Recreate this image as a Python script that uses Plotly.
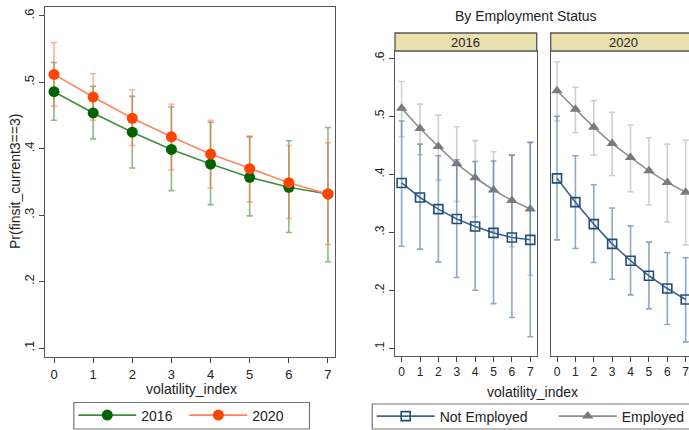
import plotly.graph_objects as go

W, H = 689, 430

# ---------------- data ----------------
vol_index = [0, 1, 2, 3, 4, 5, 6, 7]
y_ticks = [0.1, 0.2, 0.3, 0.4, 0.5, 0.6]
y_tick_labels = [".1", ".2", ".3", ".4", ".5", ".6"]

# left panel: by year
p2016 = [0.486, 0.454, 0.425, 0.399, 0.377, 0.357, 0.342, 0.332]
p2016_lo = [0.443, 0.415, 0.371, 0.337, 0.316, 0.299, 0.274, 0.230]
p2016_hi = [0.530, 0.494, 0.479, 0.463, 0.440, 0.418, 0.412, 0.432]
p2020 = [0.512, 0.478, 0.446, 0.418, 0.392, 0.370, 0.349, 0.332]
p2020_lo = [0.464, 0.443, 0.405, 0.368, 0.341, 0.320, 0.295, 0.256]
p2020_hi = [0.560, 0.513, 0.489, 0.467, 0.443, 0.419, 0.405, 0.409]

# right panels: by employment status
ne16 = [0.385, 0.360, 0.340, 0.323, 0.310, 0.299, 0.291, 0.287]
ne16_lo = [0.276, 0.271, 0.249, 0.222, 0.200, 0.177, 0.153, 0.120]
ne16_hi = [0.492, 0.452, 0.432, 0.425, 0.422, 0.423, 0.433, 0.455]
em16 = [0.514, 0.479, 0.448, 0.418, 0.394, 0.373, 0.355, 0.340]
em16_lo = [0.465, 0.434, 0.390, 0.353, 0.327, 0.302, 0.275, 0.226]
em16_hi = [0.560, 0.521, 0.502, 0.482, 0.458, 0.439, 0.433, 0.455]

ne20 = [0.393, 0.352, 0.314, 0.280, 0.251, 0.225, 0.203, 0.184]
ne20_lo = [0.287, 0.272, 0.248, 0.219, 0.192, 0.168, 0.141, 0.111]
ne20_hi = [0.500, 0.432, 0.382, 0.342, 0.311, 0.283, 0.265, 0.256]
em20 = [0.544, 0.512, 0.481, 0.453, 0.429, 0.406, 0.386, 0.369]
em20_lo = [0.492, 0.472, 0.433, 0.398, 0.370, 0.347, 0.318, 0.278]
em20_hi = [0.594, 0.550, 0.527, 0.507, 0.485, 0.463, 0.452, 0.459]

panel_labels = ["2016", "2020"]

FONT = "Liberation Sans, Arial, sans-serif"


def px_x(p):
    return p / W


def px_y(p):
    return (H - p) / H


def err_trace(x, y, lo, hi, color, xa, ya):
    return go.Scatter(
        x=x, y=y, mode="markers", marker=dict(opacity=0, size=1),
        error_y=dict(type="data", symmetric=False,
                     array=[h - v for h, v in zip(hi, y)],
                     arrayminus=[v - l for v, l in zip(y, lo)],
                     color=color, thickness=1.6, width=3),
        xaxis=xa, yaxis=ya, showlegend=False, hoverinfo="skip")


fig = go.Figure()

# ---- left panel ----
fig.add_trace(err_trace(vol_index, p2016, p2016_lo, p2016_hi, "rgba(40,130,40,0.55)", "x", "y"))
fig.add_trace(err_trace(vol_index, p2020, p2020_lo, p2020_hi, "rgba(255,110,60,0.55)", "x", "y"))
fig.add_trace(go.Scatter(x=vol_index, y=p2016, mode="lines+markers", name="2016",
                         line=dict(color="#3F8F3F", width=1.6),
                         marker=dict(color="#006400", size=11, symbol="circle"),
                         xaxis="x", yaxis="y", legend="legend"))
fig.add_trace(go.Scatter(x=vol_index, y=p2020, mode="lines+markers", name="2020",
                         line=dict(color="#FF8560", width=1.6),
                         marker=dict(color="#FF4500", size=11, symbol="circle"),
                         xaxis="x", yaxis="y", legend="legend"))

# ---- right panels ----
for (ne, ne_lo, ne_hi, em, em_lo, em_hi, xa, ya, first) in [
        (ne16, ne16_lo, ne16_hi, em16, em16_lo, em16_hi, "x2", "y2", True),
        (ne20, ne20_lo, ne20_hi, em20, em20_lo, em20_hi, "x3", "y3", False)]:
    fig.add_trace(err_trace(vol_index, em, em_lo, em_hi, "rgba(160,160,160,0.5)", xa, ya))
    fig.add_trace(err_trace(vol_index, ne, ne_lo, ne_hi, "rgba(70,110,155,0.6)", xa, ya))
    fig.add_trace(go.Scatter(x=vol_index, y=ne, mode="lines+markers", name="Not Employed",
                             line=dict(color="#41658F", width=1.6),
                             marker=dict(color="#1F4E79", size=9, symbol="square-open",
                                         line=dict(width=1.6)),
                             xaxis=xa, yaxis=ya, legend="legend2", showlegend=first))
    fig.add_trace(go.Scatter(x=vol_index, y=em, mode="lines+markers", name="Employed",
                             line=dict(color="#8E8E8E", width=1.6),
                             marker=dict(color="#7A7A7A", size=10, symbol="triangle-up"),
                             xaxis=xa, yaxis=ya, legend="legend2", showlegend=first))

axis_common = dict(showgrid=False, zeroline=False, ticks="outside", ticklen=5,
                   tickcolor="#444", linecolor="#555", linewidth=1.3, showline=True,
                   ticklabeloverflow="allow")

fig.update_layout(
    width=W, height=H, margin=dict(l=0, r=0, t=0, b=0, autoexpand=False),
    paper_bgcolor="white", plot_bgcolor="white",
    font=dict(family=FONT, size=14, color="#222"),
    xaxis=dict(domain=[px_x(45), px_x(335)], range=[-0.23, 7.18], tickvals=vol_index,
               anchor="y", mirror=True, tickfont=dict(family=FONT, size=13, color="#222"),
               **axis_common),
    yaxis=dict(domain=[px_y(357), px_y(7)], range=[0.0865, 0.6135], tickvals=y_ticks,
               ticktext=y_tick_labels, tickangle=-90, anchor="x", mirror=True,
               tickfont=dict(family=FONT, size=13, color="#222"), **axis_common),
    xaxis2=dict(domain=[px_x(395), px_x(536.7)], range=[-0.36, 7.35], tickvals=vol_index,
                anchor="y2", mirror=True, tickfont=dict(family=FONT, size=12, color="#222"),
                **axis_common),
    yaxis2=dict(domain=[px_y(355.7), px_y(51)], range=[0.0872, 0.6126], tickvals=y_ticks,
                ticktext=y_tick_labels, tickangle=-90, anchor="x2", mirror=True,
                tickfont=dict(family=FONT, size=12, color="#222"), **axis_common),
    xaxis3=dict(domain=[px_x(550.7), 1.0], range=[-0.343, 7.18], tickvals=vol_index,
                anchor="y3", mirror=True, tickfont=dict(family=FONT, size=12, color="#222"),
                **axis_common),
    yaxis3=dict(domain=[px_y(355.7), px_y(51)], range=[0.0872, 0.6126], tickvals=y_ticks,
                anchor="x3", showticklabels=False, showgrid=False, zeroline=False,
                showline=True, linecolor="#555", linewidth=1.3, ticks=""),
    legend=dict(orientation="h", x=px_x(73.3), xanchor="left", y=px_y(399.5), yanchor="top",
                borderwidth=0, bgcolor="rgba(0,0,0,0)",
                font=dict(family=FONT, size=14, color="#222"),
                entrywidth=38, entrywidthmode="pixels", itemwidth=58),
    legend2=dict(orientation="h", x=px_x(371.7), xanchor="left", y=px_y(400.5), yanchor="top",
                 borderwidth=0, bgcolor="rgba(0,0,0,0)",
                 font=dict(family=FONT, size=14, color="#222"),
                 entrywidth=109, entrywidthmode="pixels", itemwidth=58),
)

# strip headers and legend frames
strip_fill = "#E9E0AD"
shapes = [
    dict(type="rect", xref="paper", yref="paper", x0=px_x(395), x1=px_x(536.7),
         y0=px_y(51), y1=px_y(33), fillcolor=strip_fill, line=dict(color="#555", width=1.3)),
    dict(type="rect", xref="paper", yref="paper", x0=px_x(550.7), x1=px_x(700),
         y0=px_y(51), y1=px_y(33), fillcolor=strip_fill, line=dict(color="#555", width=1.3)),
    dict(type="rect", xref="paper", yref="paper", x0=px_x(73.8), x1=px_x(309.5),
         y0=px_y(429), y1=px_y(402.5), line=dict(color="#777", width=1.2), layer="below"),
    dict(type="rect", xref="paper", yref="paper", x0=px_x(372.2), x1=px_x(700),
         y0=px_y(429), y1=px_y(404), line=dict(color="#777", width=1.2), layer="below"),
]
fig.update_layout(shapes=shapes)

ann_common = dict(xref="paper", yref="paper", showarrow=False,
                  xanchor="center", yanchor="middle")
annotations = [
    dict(text=panel_labels[0], x=px_x(465.9), y=px_y(42),
         font=dict(size=13, color="#222"), **ann_common),
    dict(text=panel_labels[1], x=px_x(623), y=px_y(42),
         font=dict(size=13, color="#222"), **ann_common),
    dict(text="By Employment Status", x=px_x(525.5), y=px_y(16),
         font=dict(size=14, color="#222"), **ann_common),
    dict(text="volatility_index", x=px_x(191.5), y=px_y(389),
         font=dict(size=14, color="#222"), **ann_common),
    dict(text="volatility_index", x=px_x(532.5), y=px_y(391.5),
         font=dict(size=14, color="#222"), **ann_common),
    dict(text="Pr(finsit_current3==3)", x=px_x(15), y=px_y(182), textangle=-90,
         font=dict(size=14, color="#222"), **ann_common),
]
fig.update_layout(annotations=annotations)

fig.write_html("out.html")
